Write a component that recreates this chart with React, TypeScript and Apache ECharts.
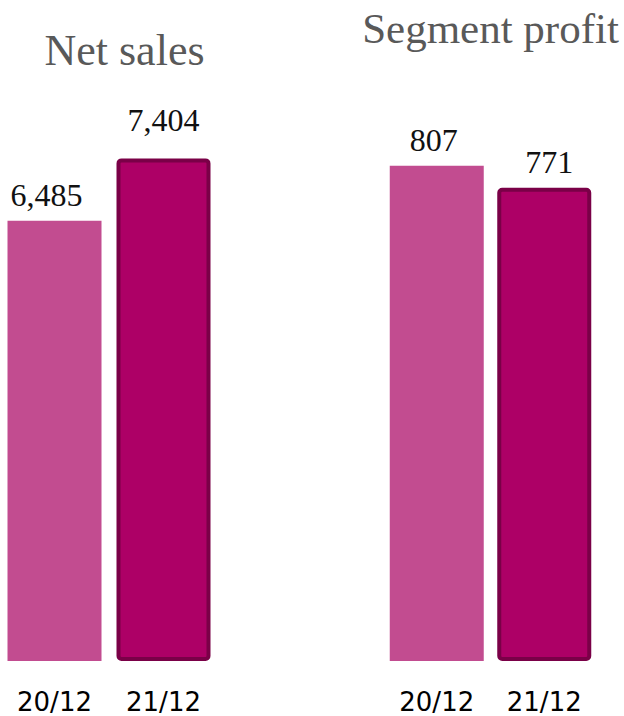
import React, { useEffect, useRef } from "react";
import * as echarts from "echarts";

const categories = ["20/12", "21/12"];
const netSales = [6485, 7404];
const segmentProfit = [807, 771];
const titles = ["Net sales", "Segment profit"];

const LIGHT = "#c24c90";
const DARK = "#ad0066";
const DARK_BORDER = "#7a0047";

const fmt = (v: number) => String(v).replace(/\B(?=(\d{3})+(?!\d))/g, ",");

export default function App() {
  const ref = useRef<HTMLDivElement>(null);
  useEffect(() => {
    if (!ref.current) return;
    const chart = echarts.init(ref.current, null, { renderer: "svg" });

    const barItem = (v: number, i: number, off: number[]) => ({
      value: v,
      itemStyle:
        i === 0
          ? { color: LIGHT }
          : { color: DARK, borderColor: DARK_BORDER, borderWidth: 4, borderRadius: 3 },
      label: { offset: off },
    });

    const labelStyle = {
      show: true,
      position: "top",
      distance: 10,
      fontFamily: "Liberation Serif",
      fontSize: 32,
      color: "#111",
      formatter: (p: any) => fmt(p.value),
    };

    const xAxisBase = {
      type: "category",
      data: categories,
      axisLine: { show: false },
      axisTick: { show: false },
      axisLabel: {
        interval: 0,
        margin: 28,
        fontFamily: "DejaVu Sans",
        fontSize: 26,
        color: "#000",
      },
    };
    const yAxisBase = {
      type: "value",
      min: 0,
      show: false,
      splitLine: { show: false },
    };

    chart.setOption({
      animation: false,
      grid: [
        { left: 0, width: 218, top: 100, bottom: 55 },
        { left: 383, width: 215, top: 100, bottom: 55 },
      ],
      xAxis: [
        { ...xAxisBase, gridIndex: 0 },
        { ...xAxisBase, gridIndex: 1 },
      ],
      yAxis: [
        { ...yAxisBase, gridIndex: 0, max: 8264 },
        { ...yAxisBase, gridIndex: 1, max: 914 },
      ],
      series: [
        {
          type: "bar",
          xAxisIndex: 0,
          yAxisIndex: 0,
          barWidth: 94,
          label: labelStyle,
          data: [barItem(netSales[0], 0, [-8, 0]), barItem(netSales[1], 1, [0, -12])],
        },
        {
          type: "bar",
          xAxisIndex: 1,
          yAxisIndex: 1,
          barWidth: 94,
          label: labelStyle,
          data: [barItem(segmentProfit[0], 0, [-3, 0]), barItem(segmentProfit[1], 1, [5, 0])],
        },
      ],
      graphic: [
        {
          type: "text",
          x: 124.5,
          y: 50,
          style: {
            text: titles[0],
            fontFamily: "Liberation Serif",
            fontSize: 44,
            fill: "#595959",
            textAlign: "center",
            textVerticalAlign: "middle",
          },
        },
        {
          type: "text",
          x: 490.5,
          y: 28,
          style: {
            text: titles[1],
            fontFamily: "Liberation Serif",
            fontSize: 43,
            fill: "#595959",
            textAlign: "center",
            textVerticalAlign: "middle",
          },
        },
      ],
    });
    return () => chart.dispose();
  }, []);
  return (
    <div
      ref={ref}
      style={{ position: "absolute", left: 0, top: 0, width: 624, height: 716 }}
    />
  );
}
